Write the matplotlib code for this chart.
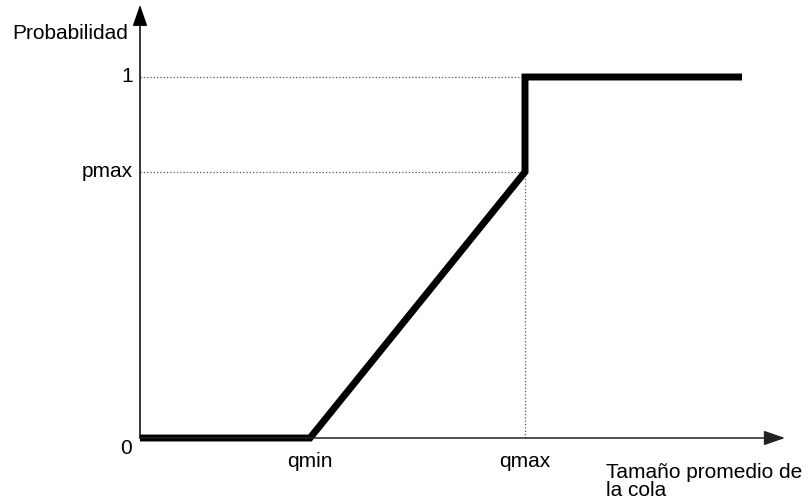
import matplotlib
matplotlib.use('Agg')
from matplotlib import pyplot as plt

plt.rcParams['font.family'] = ['Liberation Sans', 'DejaVu Sans']

# curve of the drop probability vs average queue length
q_points = [0, 170, 385, 385, 602]
p_points = [0, 0, 0.737, 1, 1]
q_ticks = [170, 385]
q_labels = ['qmin', 'qmax']
p_ticks = [0, 0.737, 1]
p_labels = ['0', 'pmax', '1']
x_label = 'Tamaño promedio de\nla cola'
y_label = 'Probabilidad'

fig = plt.figure(figsize=(8.1, 4.99), dpi=100)
ax = fig.add_axes([0, 0, 1, 1])
ax.set_xlim(-140, 670)
ax.set_ylim(-61 / 361, 438 / 361)
ax.axis('off')

# axes with arrows
ax.annotate('', xy=(645, 0), xytext=(0, 0),
            arrowprops=dict(arrowstyle='-|>,head_length=1.3,head_width=0.45', color='#222222', lw=1.1,
                            shrinkA=0, shrinkB=0))
ax.annotate('', xy=(0, 1.2), xytext=(0, 0),
            arrowprops=dict(arrowstyle='-|>,head_length=1.3,head_width=0.45', color='black', lw=1.1,
                            shrinkA=0, shrinkB=0))

# dotted guides
ax.plot([0, q_ticks[1]], [1, 1], ls=':', color='#555555', lw=0.9)
ax.plot([0, q_ticks[1]], [p_ticks[1], p_ticks[1]], ls=':', color='#555555', lw=0.9)
ax.plot([q_ticks[1], q_ticks[1]], [0, p_ticks[1]], ls=':', color='#555555', lw=0.9)

ax.plot(q_points, p_points, color='black', lw=5, solid_joinstyle='miter', solid_capstyle='butt')

for q, lab in zip(q_ticks, q_labels):
    ax.text(q, -0.04, lab, ha='center', va='top', fontsize=15)
for p, lab in zip(p_ticks, p_labels):
    ax.text(-7, p, lab, ha='right', va='center', fontsize=15)
ax.texts[-3].set_position((-8, -0.03))

ax.text(-128, 1.12, y_label, ha='left', va='center', fontsize=15)
ax.text(466, -0.07, x_label, ha='left', va='top', fontsize=15, linespacing=0.92)

fig.savefig('out.png', dpi=100)
